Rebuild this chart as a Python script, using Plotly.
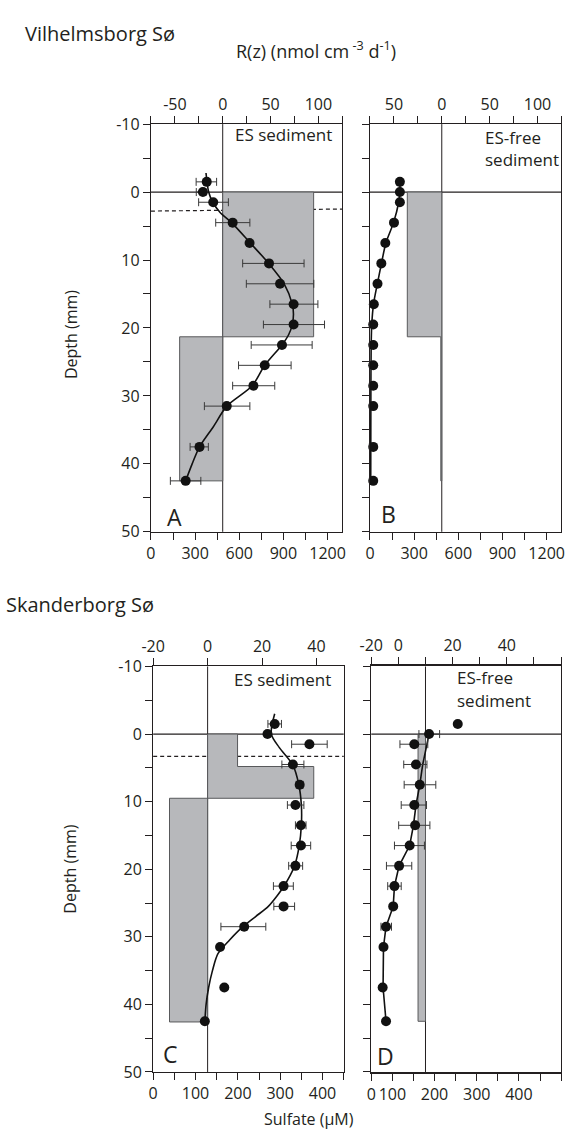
import plotly.graph_objects as go

W, H = 568, 1148
FONT = "Open Sans"
TXT = "#231f20"
BOX_FILL = "#b7b8bb"
BOX_LINE = "#58595b"

# ---------------- data ----------------
depths = [-1.5, 0, 1.5, 4.5, 7.5, 10.5, 13.5, 16.5, 19.5, 22.5, 25.5, 28.5, 31.5, 37.5, 42.5]

# Panel A (Vilhelmsborg, ES sediment)
sulf_A = [379, 353, 423, 555, 670, 802, 877, 969, 969, 890, 773, 696, 515, 330, 236]
errm_A = [72, 45, 99, 115, 0, 179, 229, 161, 205, 209, 178, 141, 152, 64, 104]
errp_A = [67, 20, 103, 117, 0, 238, 229, 165, 210, 205, 179, 145, 157, 60, 103]
fit_A_depth = [-2.8, 0, 1.5, 3, 4.5, 7.5, 10.5, 13.5, 16.5, 18, 19.5, 21, 22.5, 25.5, 28.5, 31.5, 34.5, 37.5, 40, 42.5]
fit_A_sulf = [374, 392, 420, 470, 548, 675, 800, 905, 960, 968, 960, 935, 890, 773, 688, 515, 425, 330, 280, 236]
R_A_edges = [0, 21.3, 42.5]
R_A_vals = [95, -45]

# Panel B (Vilhelmsborg, ES-free sediment)
sulf_B = [203, 203, 203, 163, 104, 77, 51, 26, 22, 22, 22, 22, 22, 22, 22]
fit_B_depth = [-1.5, 0, 1.5, 4.5, 7.5, 10.5, 13.5, 16.5, 19.5, 22.5, 30, 42.5]
fit_B_sulf = [203, 203, 195, 160, 108, 78, 50, 24, 12, 8, 6, 5]
R_B_edges = [0, 21.3, 42.5]
R_B_vals = [-36, -1]

# Panel C (Skanderborg, ES sediment)
sulf_C = [287, 270, 369, 330, 346, 336, 349, 349, 336, 308, 308, 215, 158, 168, 122]
errm_C = [16, 0, 42, 26, 8, 19, 13, 23, 16, 24, 23, 55, 0, 0, 0]
errp_C = [16, 0, 42, 26, 8, 20, 12, 23, 17, 23, 26, 51, 0, 0, 0]
fit_C_depth = [-3, 0, 2, 4.6, 7.5, 10.5, 13.5, 16.5, 19.5, 21, 22.6, 24, 25.5, 27, 28.6, 30.5, 32.5, 35, 37.5, 40, 42.6]
fit_C_sulf = [287, 279, 298, 330, 344, 350, 350, 345, 334, 323, 308, 292, 272, 242, 210, 180, 153, 140, 131, 125, 122]
R_C_edges = [0, 4.8, 9.5, 42.6]
R_C_vals = [11, 39, -14]

# Panel D (Skanderborg, ES-free sediment)
sulf_D = [255, 187, 152, 156, 165, 152, 154, 141, 116, 105, 102, 85, 79, 77, 85]
errm_D = [0, 24, 34, 29, 37, 31, 39, 36, 30, 16, 0, 12, 0, 5, 0]
errp_D = [0, 25, 32, 26, 38, 29, 35, 35, 30, 16, 0, 13, 0, 5, 0]
fit_D_depth = [0, 1.5, 4.5, 7.5, 10.5, 13.5, 16.5, 19.5, 22.5, 25.5, 28.5, 31.5, 37.5, 42.5]
fit_D_sulf = [187, 182, 172, 165, 156, 150, 141, 116, 105, 102, 85, 79, 78, 85]
R_D_edges = [0, 42.5]
R_D_vals = [-2.75]

# ---------------- axis ticks / labels ----------------
depth_major = [-10, 0, 10, 20, 30, 40, 50]
depth_major_text = ["-10", "0", "10", "20", "30", "40", "50"]
depth_minor = [-5, 5, 15, 25, 35, 45]

A_R_major = [-50, 0, 50, 100]
A_R_text = ["-50", "0", "50", "100"]
B_R_text = ["50", "0", "50", "100"]
V_R_minor = [-75, -25, 25, 75, 125]
V_S_major = [0, 300, 600, 900, 1200]
V_S_text = ["0", "300", "600", "900", "1200"]
V_S_minor = [150, 450, 750, 1050]

C_R_major = [-20, 0, 20, 40]
C_R_text = ["-20", "0", "20", "40"]
D_R_major = [-20, -10, 10, 30]
D_R_text = ["-20", "0", "20", "40"]
D_R_minor = [0, 20, 40, 50]
C_S_major = [0, 100, 200, 300, 400]
C_S_text = ["0", "100", "200", "300", "400"]
C_S_minor = [50, 150, 250, 350, 450]
D_S_major = [50, 100, 200, 300, 400]
D_S_text = ["0", "100", "200", "300", "400"]
D_S_minor = [150, 250, 350, 450, 500]


def Y(py):
    return 1 - py / H


def X(px):
    return px / W


fig = go.Figure()


def step_polygon(edges, vals):
    xs, ys = [0], [edges[0]]
    for i, v in enumerate(vals):
        xs += [v, v]
        ys += [edges[i], edges[i + 1]]
    xs += [0, 0]
    ys += [edges[-1], edges[0]]
    return xs, ys


def add_panel(rx, sx, ya, edges, vals, sulf, fit_d, fit_s, errm=None, errp=None, fit_shape="spline"):
    bx, by = step_polygon(edges, vals)
    fig.add_trace(go.Scatter(x=bx, y=by, xaxis=rx, yaxis=ya, mode="lines", fill="toself",
                             fillcolor=BOX_FILL, line=dict(color=BOX_LINE, width=1),
                             hoverinfo="skip", showlegend=False))
    fig.add_trace(go.Scatter(x=fit_s, y=fit_d, xaxis=sx, yaxis=ya, mode="lines",
                             line=dict(color="#111", width=1.6, shape=fit_shape, smoothing=0.8),
                             hoverinfo="skip", showlegend=False))
    ex = None
    if errm is not None:
        ex = dict(type="data", symmetric=False, array=errp, arrayminus=errm,
                  color="#3a3a3a", thickness=1, width=4)
    fig.add_trace(go.Scatter(x=sulf, y=depths, xaxis=sx, yaxis=ya, mode="markers",
                             marker=dict(color="#111", size=10), error_x=ex,
                             cliponaxis=False, showlegend=False))


add_panel("x", "x2", "y", R_A_edges, R_A_vals, sulf_A, fit_A_depth, fit_A_sulf, errm_A, errp_A)
add_panel("x3", "x4", "y2", R_B_edges, R_B_vals, sulf_B, fit_B_depth, fit_B_sulf)
add_panel("x5", "x6", "y3", R_C_edges, R_C_vals, sulf_C, fit_C_depth, fit_C_sulf, errm_C, errp_C)
add_panel("x7", "x8", "y4", R_D_edges, R_D_vals, sulf_D, fit_D_depth, fit_D_sulf, errm_D, errp_D,
          fit_shape="linear")

tickfont = dict(family=FONT, size=16, color=TXT)


def minor(vals):
    return dict(tickmode="array", tickvals=vals, ticks="outside", ticklen=7, tickwidth=1,
                tickcolor=TXT, showgrid=False)


def xax(dom, anchor, rng, tv, tt, mv, side, overlay=None, lw=1.3):
    d = dict(domain=dom, anchor=anchor, range=rng, side=side, tickmode="array", tickvals=tv,
             ticktext=tt, ticks="outside", ticklen=7, tickwidth=1, tickcolor=TXT,
             showline=True, linecolor=TXT, linewidth=lw, showgrid=False, zeroline=False,
             tickfont=tickfont, fixedrange=True, minor=minor(mv))
    if overlay:
        d["overlaying"] = overlay
    return d


def yax(dom, anchor, labels=True, lw=1.3):
    return dict(domain=dom, anchor=anchor, range=[50, -10], tickmode="array", tickvals=depth_major,
                ticktext=depth_major_text, showticklabels=labels, ticks="outside",
                ticklen=7, tickwidth=1, tickcolor=TXT, showline=True, mirror=True, linecolor=TXT,
                linewidth=lw, showgrid=False, zeroline=False, tickfont=tickfont, fixedrange=True,
                minor=minor(depth_minor))


A_x = [142.7 / W, 339.3 / W]
B_x = [367.7 / W, 564.3 / W]
C_x = [145 / W, 340.7 / W]
D_x = [369 / W, 564 / W]
top_y = [Y(531), Y(115.3)]
bot_y = [Y(1081.7), Y(668.3)]

fig.update_layout(
    xaxis=xax(A_x, "y", [-75, 125], A_R_major, A_R_text, V_R_minor, "top"),
    xaxis2=xax(A_x, "y", [0, 1300], V_S_major, V_S_text, V_S_minor, "bottom", "x"),
    yaxis=yax(top_y, "x"),
    xaxis3=xax(B_x, "y2", [-75, 125], A_R_major, B_R_text, V_R_minor, "top"),
    xaxis4=xax(B_x, "y2", [0, 1300], V_S_major, V_S_text, V_S_minor, "bottom", "x3"),
    yaxis2=yax(top_y, "x3", labels=False),
    xaxis5=xax(C_x, "y3", [-20, 50], C_R_major, C_R_text, [], "top"),
    xaxis6=xax(C_x, "y3", [0, 450], C_S_major, C_S_text, C_S_minor, "bottom", "x5"),
    yaxis3=yax(bot_y, "x5"),
    xaxis7=xax(D_x, "y4", [-20, 50], D_R_major, D_R_text, D_R_minor, "top", lw=2),
    xaxis8=xax(D_x, "y4", [50, 500], D_S_major, D_S_text, D_S_minor, "bottom", "x7", lw=2),
    yaxis4=yax(bot_y, "x7", labels=False),
)

shapes = []
for xr, yr in [("x", "y"), ("x3", "y2"), ("x5", "y3"), ("x7", "y4")]:
    shapes.append(dict(type="line", xref=f"{xr} domain", yref=yr, x0=0, x1=1, y0=0, y1=0,
                       line=dict(color=TXT, width=1.2), layer="below"))
    shapes.append(dict(type="line", xref=xr, yref=f"{yr} domain", x0=0, x1=0, y0=0, y1=1,
                       line=dict(color=TXT, width=1), layer="below"))
shapes.append(dict(type="line", xref="x domain", yref="y", x0=0, x1=1, y0=2.8, y1=2.5,
                   line=dict(color=TXT, width=1.2, dash="4px,3px"), layer="below"))
shapes.append(dict(type="line", xref="x5 domain", yref="y3", x0=0, x1=1, y0=3.3, y1=3.3,
                   line=dict(color=TXT, width=1.2, dash="4px,3px"), layer="below"))

ann = []


def txt(text, x, y, size, xanchor="center", yanchor="middle", angle=0):
    ann.append(dict(text=text, x=X(x), y=Y(y), xref="paper", yref="paper", showarrow=False,
                    xanchor=xanchor, yanchor=yanchor, textangle=angle,
                    font=dict(family=FONT, size=size, color=TXT)))


txt("Vilhelmsborg Sø", 11, 23, 20, xanchor="left")
txt("R(z) (nmol cm<sup> -3</sup> d<sup>-1</sup>)", 312, 40, 18)
txt("Skanderborg Sø", -8, 605, 20, xanchor="left")
txt("Depth (mm)", 60, 330, 16, angle=-90)
txt("Depth (mm)", 60, 875, 16, angle=-90)
txt("Sulfate (µM)", 305, 1130, 16)
txt("ES sediment", 278.7, 125.5, 17)
txt("ES-free", 484, 129, 17, xanchor="left")
txt("sediment", 484, 151, 17, xanchor="left")
txt("ES sediment", 225.7, 682, 17, xanchor="left")
txt("ES-free", 455, 680, 17, xanchor="left")
txt("sediment", 455, 703, 17, xanchor="left")
txt("A", 166.7, 516, 23)
txt("B", 386.7, 513, 23)
txt("C", 162.7, 1063, 23)
txt("D", 383.3, 1065, 23)

fig.update_layout(width=W, height=H, autosize=False, margin=dict(l=0, r=0, t=0, b=0),
                  paper_bgcolor="white", plot_bgcolor="rgba(0,0,0,0)", shapes=shapes,
                  annotations=ann, showlegend=False)

fig.write_html("out.html", config={"displayModeBar": False})
